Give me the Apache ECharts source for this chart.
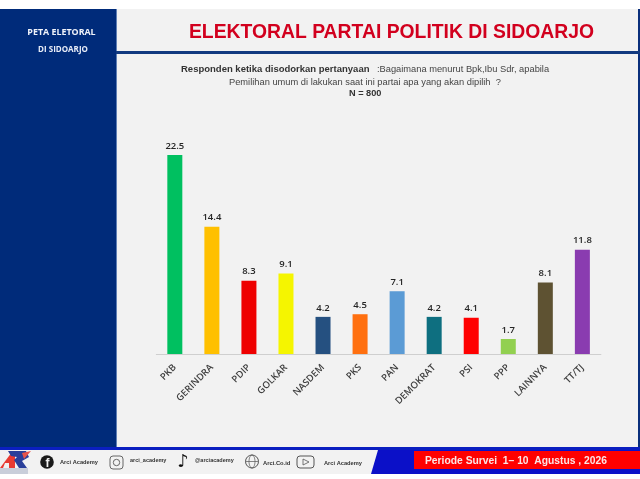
<!DOCTYPE html>
<html><head><meta charset="utf-8">
<style>html,body{margin:0;padding:0;background:#fff}#c{width:640px;height:479px}</style>
<script src="https://cdn.jsdelivr.net/npm/echarts@6/dist/echarts.min.js"></script></head>
<body><div id="c"></div>
<script>
const categories=["PKB","GERINDRA","PDIP","GOLKAR","NASDEM","PKS","PAN","DEMOKRAT","PSI","PPP","LAINNYA","TT/TJ"];
const values=[22.5,14.4,8.3,9.1,4.2,4.5,7.1,4.2,4.1,1.7,8.1,11.8];
const colors=["#00C060","#FFC000","#EE0000","#F5F500","#255080","#FF7010","#5B9BD5","#0E6F80","#FF0000","#92D050","#5E5232","#8A3CB0"];
const chart=echarts.init(document.getElementById('c'),null,{renderer:'canvas'});
const rect=(x,y,w,h,fill,z)=>({type:'rect',shape:{x,y,width:w,height:h},style:{fill},z:z||0,silent:true});
const txt=(x,y,t,font,fill,align)=>({type:'text',x,y,style:{text:t,font,fill,textAlign:align||'left',textVerticalAlign:'middle'},z:5,silent:true});
const poly=(pts,fill,z)=>({type:'polygon',shape:{points:pts},style:{fill},z:z||1,silent:true});
const rr=(x,y,w,h,r,stroke)=>({type:'rect',shape:{x,y,width:w,height:h,r},style:{fill:'none',stroke,lineWidth:1},z:3,silent:true});
const sans='"Liberation Sans"', op='"Open Sans"';
const elements=[
 rect(116,9,522,438,'#F2F2F2'),
 rect(0,9,116,438,'#002B7A',1),
 rect(116,9,1,438,'#5F7FB5',1),
 rect(638,9,2,438,'#0A2F7C',1),
 rect(116,51,524,3,'#123A80',1),
 txt(61.5,32.5,'PETA ELETORAL','bold 8.9px '+op,'#F0F3FA','center'),
 txt(63,49.5,'DI SIDOARJO','bold 8px '+op,'#E8EDF8','center'),
 txt(391.5,33,'ELEKTORAL PARTAI POLITIK DI SIDOARJO','bold 19.35px '+sans,'#D2001E','center'),
 txt(181,69.5,'Responden ketika disodorkan pertanyaan','bold 9.5px '+sans,'#333333'),
 txt(377,69.5,':Bagaimana menurut Bpk,Ibu Sdr, apabila','9.3px '+sans,'#444444'),
 txt(229,82,'Pemilihan umum di lakukan saat ini partai apa yang akan dipilih  ?','9.3px '+sans,'#444444'),
 txt(349,93.5,'N = 800','bold 9.2px '+sans,'#333333'),
 rect(0,447,640,3,'#0B1FC0',2),
 rect(0,450,640,24,'#F2F2F2',1),
 poly([[378,450],[640,450],[640,474],[371,474]],'#0B10C8',2),
 rect(414,451,226,18,'#FF0000',3),
 txt(425,461,'Periode Survei  1\u2013 10  Agustus , 2026','bold 10.3px '+sans,'#FBE4E4'),
 // logo
 poly([[0,468],[12,452],[15,452],[15,468],[9,468],[9,463],[5,463],[3,468]],'#E83A32',2),
 poly([[8,451],[26,451],[29,457],[22,461],[27,468],[19,468],[14,460],[17,457],[11,456]],'#2A3F9A',2),
 poly([[22,453],[31,451],[24,459]],'#E8554A',3),
 rect(0,468,28,6,'#C9CEDA',2),
 // facebook
 {type:'circle',shape:{cx:47,cy:462,r:6.8},style:{fill:'#1A1A1A'},z:3,silent:true},
 txt(47.5,463.5,'f','bold 12px '+sans,'#F2F2F2','center'),
 txt(60,462,'Arci Academy','bold 5.7px '+sans,'#333333'),
 // instagram
 rr(110,456,13,13,3,'#666666'),
 {type:'circle',shape:{cx:116.5,cy:462.5,r:3.2},style:{fill:'none',stroke:'#666666',lineWidth:1},z:3,silent:true},
 txt(130,460.5,'arci_academy','bold 5.5px '+sans,'#333333'),
 // tiktok
 txt(183,462,'\u266A','bold 18px "DejaVu Sans"','#111111','center'),
 txt(195,460.5,'@arciacademy','bold 5.5px '+sans,'#333333'),
 // globe
 {type:'circle',shape:{cx:252,cy:461.5,r:6.5},style:{fill:'none',stroke:'#555555',lineWidth:1},z:3,silent:true},
 {type:'ellipse',shape:{cx:252,cy:461.5,rx:3,ry:6.5},style:{fill:'none',stroke:'#555555',lineWidth:.7},z:3,silent:true},
 {type:'line',shape:{x1:245.5,y1:461.5,x2:258.5,y2:461.5},style:{stroke:'#555555',lineWidth:.7},z:3,silent:true},
 txt(263,463,'Arci.Co.id','bold 5.8px '+sans,'#333333'),
 // youtube
 rr(297,456,17,12,3,'#555555'),
 {type:'polyline',shape:{points:[[303,459],[303,465],[309,462],[303,459]]},style:{stroke:'#555555',fill:'none',lineWidth:.8},z:3,silent:true},
 txt(324,463,'Arci Academy','bold 5.7px '+sans,'#333333')
];
chart.setOption({
 animation:false,
 backgroundColor:'#ffffff',
 graphic:{elements},
 grid:{left:156.3,width:444.6,top:133,height:221},
 xAxis:{type:'category',data:categories,axisTick:{show:false},
  axisLine:{lineStyle:{color:'#CFCFCF',width:1}},
  axisLabel:{rotate:45,interval:0,margin:12,fontFamily:op,fontSize:9.5,fontWeight:600,color:'#404040'}},
 yAxis:{type:'value',min:0,max:25,show:false,splitLine:{show:false}},
 series:[{type:'bar',z:4,barWidth:15,data:values.map((v,i)=>({value:v,itemStyle:{color:colors[i]}})),
  label:{show:true,position:'top',distance:4,fontFamily:op,fontSize:9.5,fontWeight:600,color:'#262626'}}]
});
</script></body></html>
